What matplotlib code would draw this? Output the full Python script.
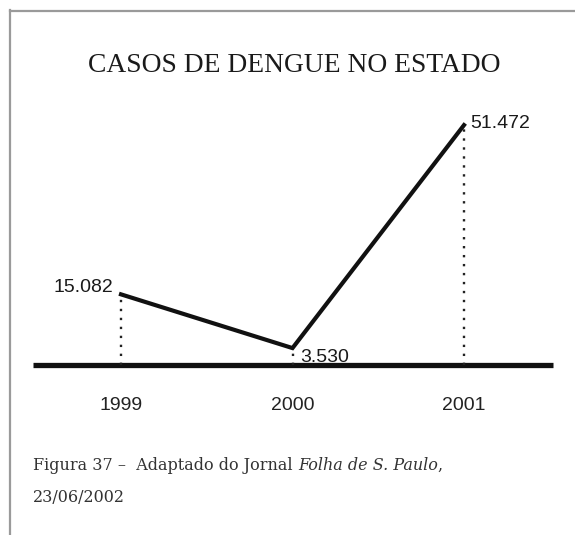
import matplotlib
matplotlib.use('Agg')
import matplotlib.pyplot as plt
from matplotlib.lines import Line2D

anos = ['1999', '2000', '2001']
casos = [15082, 3530, 51472]
rotulos = ['15.082', '3.530', '51.472']

W, H = 575, 535
fig = plt.figure(figsize=(W / 100, H / 100), dpi=100)
fig.patch.set_facecolor('white')


def fx(px):
    return px / W


def fy(py):
    return 1 - py / H


# moldura cinza (topo e esquerda)
cinza = '#9a9a9a'
fig.add_artist(Line2D([fx(10), fx(575)], [fy(10.5), fy(10.5)], color=cinza, lw=1.6,
                      transform=fig.transFigure))
fig.add_artist(Line2D([fx(10), fx(10)], [fy(10), fy(535)], color=cinza, lw=1.6,
                      transform=fig.transFigure))

fig.text(fx(294), fy(66), 'CASOS DE DENGUE NO ESTADO', ha='center', va='center',
         family='Liberation Serif', fontsize=19.8, color='#1a1a1a')

# eixo do grafico: base em y=364.5 px, topo em 100 px
ax = fig.add_axes([fx(33), fy(364.5), fx(553) - fx(33), fy(100) - fy(364.5)])
ax.axis('off')
x = list(range(len(anos)))
px_unit = 171.5
ax.set_xlim((33 - 121) / px_unit, (553 - 121) / px_unit)
ax.set_ylim(0, (364.5 - 100) * 215)

ax.axhline(0, color='#111111', lw=3.8, clip_on=False, solid_capstyle='butt')
ax.plot(x, casos, color='#111111', lw=3.0, solid_joinstyle='miter', clip_on=False)
ax.vlines(x, 0, casos, color='#222222', lw=1.7, linestyles=(0, (1, 2.8)))

fonte = ['Liberation Sans Narrow', 'Liberation Sans']
ax.annotate(rotulos[0], (x[0], casos[0]), xytext=(-8, 7), textcoords='offset pixels',
            ha='right', va='center', family=fonte, fontsize=14, color='#1a1a1a')
ax.annotate(rotulos[1], (x[1], casos[1]), xytext=(8, -9), textcoords='offset pixels',
            ha='left', va='center', family=fonte, fontsize=14, color='#1a1a1a')
ax.annotate(rotulos[2], (x[2], casos[2]), xytext=(6, 2), textcoords='offset pixels',
            ha='left', va='center', family=fonte, fontsize=14, color='#1a1a1a')

for xi, ano in zip(x, anos):
    ax.annotate(ano, (xi, 0), xytext=(0, -41), textcoords='offset pixels',
                ha='center', va='center', family=fonte, fontsize=14, color='#222222')

# legenda da figura, com o nome do jornal em italico
serif = 'DejaVu Serif'
tam = 11.5
cor = '#333333'
t1 = fig.text(fx(33), fy(465), 'Figura 37 \u2013  Adaptado do Jornal ', ha='left', va='center',
              family=serif, fontsize=tam, color=cor)
fig.canvas.draw()
bb = t1.get_window_extent()
t2 = fig.text(bb.x1 / W, fy(465), 'Folha de S. Paulo', ha='left', va='center',
              family=serif, style='italic', fontsize=tam, color=cor)
bb2 = t2.get_window_extent(renderer=fig.canvas.get_renderer())
fig.text(bb2.x1 / W, fy(465), ',', ha='left', va='center', family=serif, fontsize=tam,
         color=cor)
fig.text(fx(33), fy(497), '23/06/2002', ha='left', va='center', family=serif,
         fontsize=tam, color=cor)

fig.savefig('out.png', dpi=100, facecolor='white')
